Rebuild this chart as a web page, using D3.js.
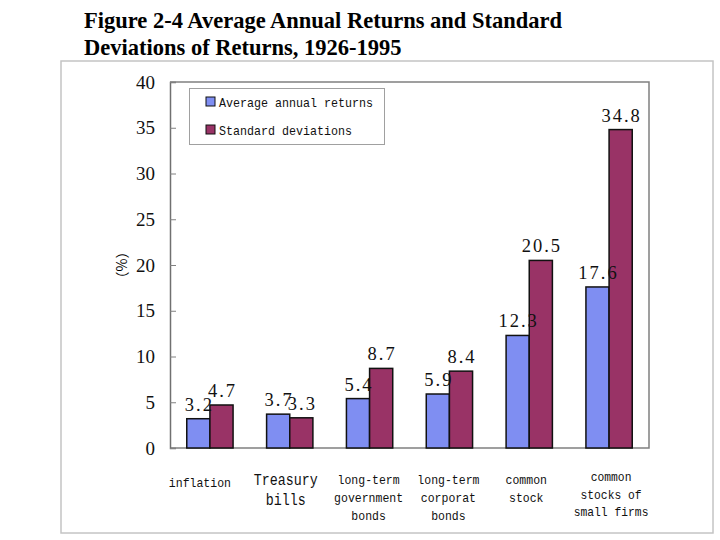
<!DOCTYPE html>
<html>
<head>
<meta charset="utf-8">
<script src="https://cdn.jsdelivr.net/npm/d3@7"></script>
<style>
  body { margin: 0; background: #fff; }
</style>
</head>
<body>
<div id="chart"></div>
<script>
// Chart data
const categories = ["inflation", "Treasury bills", "long-term government bonds", "long-term corporat bonds", "common stock", "common stocks of small firms"];
const categoryLines = [["inflation"], ["Treasury", "bills"], ["long-term", "government", "bonds"], ["long-term", "corporat", "bonds"], ["common", "stock"], ["common", "stocks of", "small firms"]];
const seriesNames = ["Average annual returns", "Standard deviations"];
const avgReturns = [3.2, 3.7, 5.4, 5.9, 12.3, 17.6];
const stdDevs = [4.7, 3.3, 8.7, 8.4, 20.5, 34.8];
const yTicks = [0, 5, 10, 15, 20, 25, 30, 35, 40];

let width = 720, height = 540;
let margin = { top: 82, bottom: 92, left: 170, right: 71 };

const colors = ["#7f8ef2", "#993366"];
const serifFont = "'Liberation Serif', serif";
const monoFont = "'Liberation Mono', monospace";

let svg = d3.select('#chart')
  .append('svg')
  .attr('width', width)
  .attr('height', height);

// Title
['Figure 2-4 Average Annual Returns and Standard', 'Deviations of Returns, 1926-1995'].forEach((t, i) => {
  svg.append('text')
    .attr('x', 84).attr('y', 28 + i * 27)
    .style('font-family', serifFont)
    .style('font-weight', 'bold')
    .style('font-size', '22.5px')
    .text(t);
});

// outer frame
svg.append('rect')
  .attr('x', 61).attr('y', 61)
  .attr('width', 652).attr('height', 472)
  .attr('fill', 'none')
  .attr('stroke', '#c4c4c4')
  .attr('stroke-width', 1.5);

// Scales
let yScale = d3.scaleLinear()
  .domain([0, 40])
  .range([height - margin.bottom, margin.top]);

let xScale = d3.scaleBand()
  .domain(categories)
  .range([margin.left, width - margin.right])
  .paddingInner(0.42)
  .paddingOuter(0.21);

let xSub = d3.scaleBand()
  .domain([0, 1])
  .range([0, xScale.bandwidth()]);

// plot area border (top, right, bottom)
svg.append('path')
  .attr('d', `M${margin.left},${margin.top}H${width - margin.right}V${yScale(0)}H${margin.left}`)
  .attr('fill', 'none')
  .attr('stroke', '#808080')
  .attr('stroke-width', 1.5);

// y axis, ticks point inward
let yAxis = svg.append('g')
  .attr('transform', `translate(${margin.left},0)`)
  .call(d3.axisLeft(yScale).tickValues(yTicks).tickSize(-6).tickPadding(15))
yAxis.select('.domain').attr('stroke', '#707070').attr('stroke-width', 1.5);
yAxis.selectAll('.tick line').attr('stroke', '#808080');
yAxis.selectAll('.tick text')
  .style('font-family', serifFont)
  .style('font-size', '19px')
  .attr('fill', '#111');

// y axis label
svg.append('text')
  .attr('transform', `translate(122, ${yScale(20)}) rotate(-90)`)
  .attr('dy', '0.35em')
  .style('text-anchor', 'middle')
  .style('font-family', "'Noto Sans CJK SC', sans-serif")
  .style('font-size', '14px')
  .text('（%）');

// Bars
const series = [avgReturns, stdDevs];
series.forEach((vals, s) => {
  svg.selectAll('.bar' + s)
    .data(vals)
    .enter()
    .append('rect')
    .attr('class', 'bar' + s)
    .attr('x', (d, i) => xScale(categories[i]) + xSub(s))
    .attr('y', d => yScale(d))
    .attr('width', xSub.bandwidth())
    .attr('height', d => yScale(0) - yScale(d))
    .attr('fill', colors[s])
    .attr('stroke', '#111')
    .attr('stroke-width', 1.5);
});

// value labels, on top of all bars
series.forEach((vals, s) => {
  svg.selectAll('.lab' + s)
    .data(vals)
    .enter()
    .append('text')
    .attr('class', 'lab' + s)
    .attr('x', (d, i) => xScale(categories[i]) + xSub(s) + xSub.bandwidth() / 2 + 1)
    .attr('y', d => yScale(d) - 8)
    .style('text-anchor', 'middle')
    .style('font-family', serifFont)
    .style('font-size', '18.5px')
    .style('letter-spacing', '2px')
    .attr('fill', '#111')
    .text(d => d.toFixed(1));
});

// category labels
const labelBase = [487, 485, 484, 484, 484, 481];
const labelSize = [13.5, 16.5, 13.5, 13.5, 13.5, 13.5];
const labelGap = [18, 20, 18, 18, 18, 17.5];
const charW = [6.9, 8, 6.9, 6.9, 6.9, 6.8];
const labelShift = [-10, -4, -1, -1, -3, 2];
categoryLines.forEach((lines, i) => {
  const cx = xScale(categories[i]) + xScale.bandwidth() / 2 + labelShift[i];
  lines.forEach((ln, j) => {
    svg.append('text')
      .attr('x', cx)
      .attr('y', labelBase[i] + j * labelGap[i])
      .attr('textLength', ln.length * charW[i])
      .attr('lengthAdjust', 'spacingAndGlyphs')
      .style('text-anchor', 'middle')
      .style('font-family', monoFont)
      .style('font-size', labelSize[i] + 'px')
      .attr('fill', '#111')
      .text(ln);
  });
});

// Legend
svg.append('rect')
  .attr('x', 189.5).attr('y', 88.5)
  .attr('width', 195).attr('height', 56)
  .attr('fill', '#fff')
  .attr('stroke', '#a0a0a0');

const legend = svg.selectAll('.legend')
  .data(seriesNames)
  .enter().append('g')
  .attr('class', 'legend')
  .attr('transform', (d, i) => `translate(206, ${97 + i * 28})`);

legend.append('rect')
  .attr('width', 9).attr('height', 9)
  .attr('fill', (d, i) => colors[i])
  .attr('stroke', '#111');

legend.append('text')
  .attr('x', 13)
  .attr('y', 10)
  .attr('textLength', d => d.length * 7)
  .attr('lengthAdjust', 'spacingAndGlyphs')
  .style('font-family', monoFont)
  .style('font-size', '13.5px')
  .attr('fill', '#111')
  .text(d => d);
</script>
</body>
</html>
